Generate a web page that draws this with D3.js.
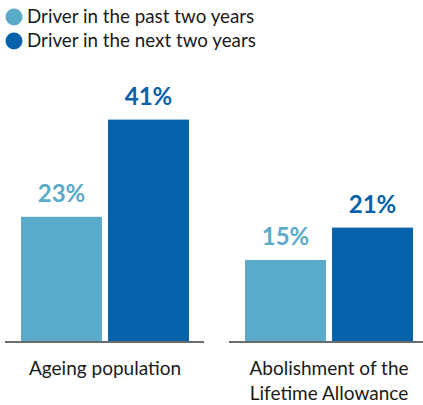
<!DOCTYPE html>
<html>
<head>
<meta charset="utf-8">
<script src="https://cdn.jsdelivr.net/npm/d3@7"></script>
<style>
  body { margin: 0; background: #fff; }
  text { font-family: Lato, "Open Sans", sans-serif; }
</style>
</head>
<body>
<div id="chart"></div>
<script>
const categories = ['Ageing population', 'Abolishment of the\nLifetime Allowance'];
const seriesNames = ['Driver in the past two years', 'Driver in the next two years'];
const pastValues = [23, 15];
const nextValues = [41, 21];
const colors = ['#5aabca', '#0562ab'];

const W = 423, H = 405;
const svg = d3.select('#chart').append('svg')
  .attr('width', W).attr('height', H);

const rows = categories.map((c, i) => ({ category: c, values: [pastValues[i], nextValues[i]] }));

const x0 = d3.scaleBand().domain(categories).range([5, 428]).paddingInner(0.1116);
const x1 = d3.scaleBand().domain([0, 1]).range([16, 184]).paddingInner(0.07);
const y = d3.scaleLinear().domain([0, 50]).range([341, 71]);

// legend
const legend = svg.append('g');
seriesNames.forEach((name, i) => {
  const g = legend.append('g').attr('transform', `translate(0,${17 + i * 24})`);
  g.append('circle').attr('cx', 14).attr('cy', 0).attr('r', 8.5).attr('fill', colors[i]);
  g.append('text').attr('x', 27).attr('y', 6)
    .attr('font-size', 18.8).attr('fill', '#1a1a1a').text(name);
});

const groups = svg.selectAll('g.grp').data(rows).join('g')
  .attr('class', 'grp')
  .attr('transform', d => `translate(${x0(d.category)},0)`);

groups.selectAll('rect').data(d => d.values).join('rect')
  .attr('x', (d, i) => x1(i))
  .attr('y', d => y(d))
  .attr('width', x1.bandwidth())
  .attr('height', d => y(0) - y(d))
  .attr('fill', (d, i) => colors[i]);

groups.selectAll('text.val').data(d => d.values).join('text')
  .attr('class', 'val')
  .attr('x', (d, i) => x1(i) + x1.bandwidth() / 2)
  .attr('y', d => y(d) - 15)
  .attr('text-anchor', 'middle')
  .attr('font-size', 24).attr('font-weight', 700)
  .attr('fill', (d, i) => colors[i])
  .text(d => d + '%');

groups.append('line')
  .attr('x1', 0).attr('x2', x0.bandwidth())
  .attr('y1', y(0) + 1).attr('y2', y(0) + 1)
  .attr('stroke', '#6b6b6b').attr('stroke-width', 2);

groups.each(function (d) {
  const t = d3.select(this).append('text')
    .attr('text-anchor', 'middle')
    .attr('font-size', 19).attr('fill', '#1a1a1a');
  d.category.split('\n').forEach((line, k) => {
    t.append('tspan').attr('x', 100).attr('y', 375 + k * 25).text(line);
  });
});
</script>
</body>
</html>
